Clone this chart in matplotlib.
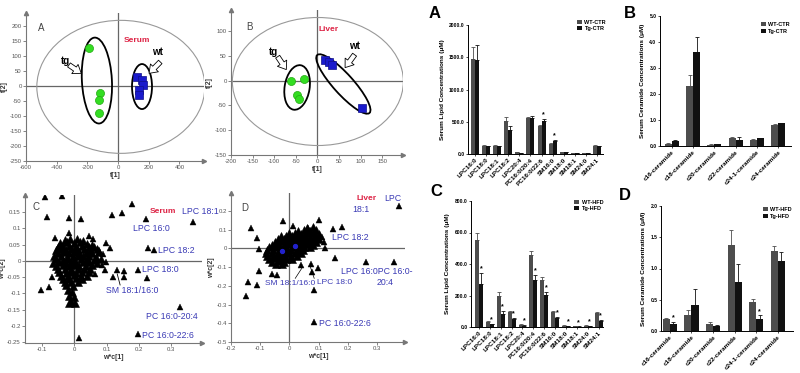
import numpy as np
import matplotlib
matplotlib.use('Agg')
import matplotlib.pyplot as plt
import matplotlib.transforms as mtransforms
from matplotlib.patches import Ellipse

plt.rcParams['font.family'] = ['Liberation Sans', 'DejaVu Sans']

# ---------------- PCA scores ----------------
serum_tg_t1 = [-188, -116, -123, -127]
serum_tg_t2 = [126, -22, -47, -91]
serum_wt_t1 = [123, 156, 162, 134, 134]
serum_wt_t2 = [31, 20, 3, -13, -30]

liver_tg_t1 = [-61, -30, -48, -42]
liver_tg_t2 = [-1, 4, -30, -38]
liver_wt_t1 = [18, 26, 33, 104]
liver_wt_t2 = [42, 37, 31, -56]

# ---------------- loadings (w*c[1], w*c[2]) ----------------
serum_out = [(-0.091, 0.195), (-0.039, 0.199), (-0.085, 0.136), (-0.016, 0.132), (0.021, 0.129),
             (0.178, 0.174), (0.147, 0.147), (0.118, 0.141), (0.222, 0.129), (0.369, 0.120),
             (0.227, 0.039), (0.247, 0.034), (0.098, 0.055), (0.111, 0.039), (0.098, -0.002),
             (0.095, -0.027), (0.132, -0.027), (0.154, -0.032), (0.154, -0.049), (0.199, -0.027),
             (0.225, -0.052), (0.119, -0.049), (0.328, -0.141), (0.196, -0.225), (0.015, -0.238),
             (-0.104, -0.088), (-0.080, -0.080), (-0.070, -0.049), (-0.060, 0.070), (-0.018, 0.085),
             (0.044, 0.075), (0.057, 0.067), (0.075, 0.034), (0.090, 0.020), (0.085, -0.012),
             (0.065, -0.040)]
serum_core = [(-0.030, 0.065), (-0.012, 0.068), (0.008, 0.066), (0.028, 0.062),
              (-0.045, 0.054), (-0.022, 0.057), (0.000, 0.055), (0.018, 0.058), (0.040, 0.053), (0.056, 0.050),
              (-0.052, 0.044), (-0.035, 0.046), (-0.015, 0.045), (0.005, 0.043), (0.025, 0.047), (0.045, 0.044),
              (0.062, 0.042),
              (-0.057, 0.034), (-0.040, 0.036), (-0.025, 0.033), (-0.008, 0.036), (0.010, 0.034), (0.030, 0.035),
              (0.050, 0.033), (0.070, 0.036),
              (-0.050, 0.024), (-0.032, 0.026), (-0.016, 0.023), (0.000, 0.026), (0.016, 0.024), (0.035, 0.025),
              (0.056, 0.023), (0.076, 0.026),
              (-0.062, 0.014), (-0.042, 0.016), (-0.022, 0.013), (-0.005, 0.016), (0.010, 0.014), (0.026, 0.015),
              (0.045, 0.016), (0.066, 0.013),
              (-0.056, 0.005), (-0.036, 0.004), (-0.020, 0.006), (0.000, 0.004), (0.020, 0.006), (0.040, 0.005),
              (0.060, 0.004), (0.082, 0.006),
              (-0.066, -0.006), (-0.046, -0.004), (-0.026, -0.006), (-0.010, -0.004), (0.006, -0.006),
              (0.026, -0.005), (0.046, -0.004), (0.070, -0.006),
              (-0.056, -0.015), (-0.036, -0.014), (-0.016, -0.016), (0.000, -0.014), (0.015, -0.016),
              (0.035, -0.015), (0.055, -0.014),
              (-0.050, -0.025), (-0.030, -0.026), (-0.010, -0.024), (0.010, -0.026), (0.030, -0.025), (0.050, -0.024),
              (-0.046, -0.035), (-0.026, -0.036), (-0.010, -0.034), (0.005, -0.036), (0.025, -0.035), (0.045, -0.034),
              (-0.040, -0.045), (-0.020, -0.046), (0.000, -0.044), (0.020, -0.046), (0.040, -0.045),
              (-0.035, -0.055), (-0.015, -0.056), (0.005, -0.054), (0.025, -0.056),
              (-0.030, -0.065), (-0.010, -0.066), (0.010, -0.064),
              (-0.025, -0.075), (-0.005, -0.076),
              (-0.020, -0.090), (-0.008, -0.095), (-0.015, -0.108), (0.000, -0.112), (-0.010, -0.122),
              (-0.018, -0.130), (0.002, -0.128)]

liver_out = [(0.376, 0.227), (-0.133, 0.111), (-0.112, 0.054), (-0.105, -0.004), (-0.103, -0.122),
             (-0.143, -0.181), (-0.110, -0.194), (-0.150, -0.256), (-0.059, -0.139), (-0.041, -0.140),
             (-0.023, 0.145), (0.013, 0.121), (0.063, 0.107), (0.102, 0.152), (0.148, 0.104),
             (0.180, 0.116), (0.111, 0.063), (0.120, 0.036), (0.122, 0.000), (0.155, -0.052),
             (0.261, -0.074), (0.359, -0.071), (0.040, -0.089), (0.074, -0.085), (0.099, -0.103),
             (0.076, -0.125), (0.086, -0.222), (0.084, -0.392)]
liver_core = [(0.060, 0.110), (0.080, 0.112),
              (0.030, 0.095), (0.050, 0.097), (0.070, 0.094), (0.090, 0.096),
              (0.000, 0.080), (0.020, 0.082), (0.040, 0.079), (0.060, 0.081), (0.080, 0.080), (0.100, 0.078),
              (-0.030, 0.065), (-0.010, 0.067), (0.010, 0.064), (0.030, 0.066), (0.050, 0.065), (0.070, 0.063),
              (0.090, 0.066),
              (-0.040, 0.050), (-0.020, 0.052), (0.000, 0.049), (0.020, 0.051), (0.040, 0.050), (0.060, 0.048),
              (0.080, 0.051), (0.100, 0.050),
              (-0.050, 0.035), (-0.030, 0.037), (-0.010, 0.034), (0.010, 0.036), (0.030, 0.035), (0.050, 0.033),
              (0.070, 0.036), (0.090, 0.035),
              (-0.060, 0.020), (-0.040, 0.022), (-0.020, 0.019), (0.000, 0.021), (0.020, 0.020), (0.040, 0.018),
              (0.060, 0.021), (0.080, 0.020),
              (-0.070, 0.005), (-0.050, 0.007), (-0.030, 0.004), (-0.010, 0.006), (0.010, 0.005), (0.030, 0.003),
              (0.050, 0.006), (0.070, 0.005),
              (-0.075, -0.010), (-0.055, -0.008), (-0.035, -0.011), (-0.015, -0.009), (0.005, -0.010),
              (0.025, -0.012), (0.045, -0.009),
              (-0.080, -0.025), (-0.060, -0.023), (-0.040, -0.026), (-0.020, -0.024), (0.000, -0.025), (0.020, -0.027),
              (0.040, -0.024),
              (-0.075, -0.040), (-0.055, -0.038), (-0.035, -0.041), (-0.015, -0.039), (0.005, -0.040), (0.025, -0.042),
              (-0.070, -0.055), (-0.050, -0.053), (-0.030, -0.056), (-0.010, -0.054), (0.010, -0.055),
              (-0.060, -0.070), (-0.040, -0.068), (-0.020, -0.071),
              (-0.045, -0.085), (-0.025, -0.083)]
liver_blue = [(-0.024, -0.012), (0.019, 0.014)]

# ---------------- bar data ----------------
lipids = ['LPC16:0', 'LPC18:0', 'LPC18:1', 'LPC18:2', 'LPC20:4', 'PC16:0/20:4', 'PC16:0/22:6',
          'SM16:0', 'SM18:0', 'SM18:1', 'SM24:0', 'SM24:1']
ceramides = ['c16-ceramide', 'c18-ceramide', 'c20-ceramide', 'c22-ceramide', 'c24-1-ceramide', 'c24-ceramide']

ctr_lip_wt = [1480, 130, 130, 510, 25, 560, 430, 160, 30, 10, 15, 125]
ctr_lip_tg = [1460, 120, 120, 370, 15, 560, 510, 200, 25, 10, 12, 120]
ctr_lip_wt_err = [180, 15, 10, 70, 5, 20, 20, 10, 5, 2, 2, 10]
ctr_lip_tg_err = [230, 10, 10, 60, 5, 25, 30, 20, 3, 2, 2, 8]
ctr_lip_star = [6, 7]

ctr_cer_wt = [0.08, 2.3, 0.05, 0.30, 0.25, 0.82]
ctr_cer_tg = [0.18, 3.6, 0.06, 0.22, 0.30, 0.88]
ctr_cer_wt_err = [0.02, 0.42, 0.01, 0.05, 0.02, 0.03]
ctr_cer_tg_err = [0.05, 0.60, 0.01, 0.12, 0.02, 0.02]

hfd_lip_wt = [550, 30, 195, 95, 15, 460, 300, 95, 8, 5, 8, 88]
hfd_lip_tg = [275, 18, 85, 50, 8, 300, 205, 58, 4, 3, 4, 38]
hfd_lip_wt_err = [50, 5, 25, 8, 4, 20, 20, 8, 2, 1, 2, 8]
hfd_lip_tg_err = [70, 4, 15, 8, 3, 30, 15, 8, 1, 1, 1, 8]
hfd_lip_star = [0, 1, 2, 3, 4, 5, 6, 7, 8, 9, 10, 11]

hfd_cer_wt = [0.20, 0.25, 0.12, 1.37, 0.47, 1.28]
hfd_cer_tg = [0.12, 0.42, 0.08, 0.79, 0.20, 1.12]
hfd_cer_wt_err = [0.01, 0.08, 0.02, 0.25, 0.05, 0.08]
hfd_cer_tg_err = [0.03, 0.25, 0.01, 0.28, 0.05, 0.15]
hfd_cer_star = [0, 4]

W, H = 800, 373
fig = plt.figure(figsize=(8, 3.73), dpi=100)


def px_axes(l, t, r, b):
    return fig.add_axes([l / W, 1 - b / H, (r - l) / W, (b - t) / H])


def ellipse_px(ax, cx, cy, w, h, angle, **kw):
    # ellipse sized in pixels, centred on a data point
    tr = fig.dpi_scale_trans + mtransforms.ScaledTranslation(cx, cy, ax.transData)
    e = Ellipse((0, 0), w / 100, h / 100, angle=angle, transform=tr, fill=False, **kw)
    ax.add_patch(e)


def hollow_arrow(ax, tail, tip):
    ax.annotate('', xy=tip, xytext=tail,
                arrowprops=dict(arrowstyle='simple,head_length=0.55,head_width=0.8,tail_width=0.35',
                                fc='white', ec='black', lw=0.6, mutation_scale=10,
                                shrinkA=0, shrinkB=0))


def pca_axes(ax, xlim, ylim, xticks, yticks, xlabel, ylabel):
    ax.set_xlim(xlim)
    ax.set_ylim(ylim)
    for s in ['top', 'right']:
        ax.spines[s].set_visible(False)
    for s in ['left', 'bottom']:
        ax.spines[s].set_color('#777777')
        ax.spines[s].set_linewidth(0.8)
    ax.axhline(0, color='#666666', lw=0.9, zorder=1)
    ax.axvline(0, color='#666666', lw=0.9, zorder=1)
    ax.set_xticks(xticks)
    ax.set_yticks(yticks)
    ax.set_xticklabels([f'{v:g}' for v in xticks])
    ax.set_yticklabels([f'{v:g}' for v in yticks])
    ax.tick_params(labelsize=4.3, colors='#555555', length=2, width=0.5, pad=1)
    ax.set_xlabel(xlabel, fontsize=5, fontweight='bold', labelpad=1, color='#333333')
    ax.set_ylabel(ylabel, fontsize=5, fontweight='bold', labelpad=1, color='#333333')
    ax.plot([1], [0], marker='>', color='#777777', ms=3, transform=ax.transAxes, clip_on=False)
    ax.plot([0], [1], marker='^', color='#777777', ms=3, transform=ax.transAxes, clip_on=False)
    ax.patch.set_alpha(0)


# ---------------- PCA serum (A) ----------------
ax = px_axes(26, 13, 204, 161)
pca_axes(ax, (-600, 560), (-250, 243), range(-600, 401, 200), range(-250, 201, 50), 't[1]', 't[2]')
ellipse_px(ax, 18, -3, 168, 133, 0, ec='#999999', lw=0.8)
ellipse_px(ax, -138, 18, 86, 30, 93, ec='black', lw=1.3)
ellipse_px(ax, 156, -2, 20, 45, 0, ec='black', lw=1.3)
ax.plot(serum_tg_t1, serum_tg_t2, 'o', color='#33dd22', mec='#22aa11', ms=5.8, mew=0.5, zorder=3)
ax.plot(serum_wt_t1, serum_wt_t2, 's', color='#1a1acc', mec='#10108a', ms=5.8, mew=0.5, zorder=3)
ax.text(-345, 82, 'tg', fontsize=7, fontweight='bold', ha='center', va='center')
ax.text(255, 112, 'wt', fontsize=7, fontweight='bold', ha='center', va='center')
hollow_arrow(ax, (-320, 70), (-240, 42))
hollow_arrow(ax, (275, 80), (202, 42))
ax.text(38, 153, 'Serum', color='#dd2244', fontsize=6, fontweight='bold', va='center')
ax.text(0.07, 0.90, 'A', transform=ax.transAxes, fontsize=7, color='#444444', va='center')

# ---------------- PCA liver (B) ----------------
ax = px_axes(231, 10, 403, 155)
pca_axes(ax, (-200, 198), (-150, 142), range(-200, 151, 50), range(-150, 101, 50), 't[1]', 't[2]')
ellipse_px(ax, 1, -2, 171, 128, 0, ec='#999999', lw=0.8)
ellipse_px(ax, -47, -14, 45, 25, 81, ec='black', lw=1.3)
ellipse_px(ax, 60, -7, 78, 20, -48, ec='black', lw=1.3)
ax.plot(liver_tg_t1, liver_tg_t2, 'o', color='#33dd22', mec='#22aa11', ms=5.8, mew=0.5, zorder=3)
ax.plot(liver_wt_t1, liver_wt_t2, 's', color='#1a1acc', mec='#10108a', ms=5.8, mew=0.5, zorder=3)
ax.text(-102, 58, 'tg', fontsize=7, fontweight='bold', ha='center', va='center')
ax.text(85, 70, 'wt', fontsize=7, fontweight='bold', ha='center', va='center')
hollow_arrow(ax, (-92, 48), (-72, 22))
hollow_arrow(ax, (86, 52), (64, 26))
ax.text(2, 102, 'Liver', color='#dd2244', fontsize=6, fontweight='bold', va='center')
ax.text(0.09, 0.88, 'B', transform=ax.transAxes, fontsize=7, color='#444444', va='center')

label_blue = '#3a3ab5'

# ---------------- loadings serum (C) ----------------
ax = px_axes(25, 195, 202, 343)
pca_axes(ax, (-0.153, 0.396), (-0.252, 0.202), [-0.1, 0, 0.1, 0.2, 0.3],
         [0.15, 0.1, 0.05, 0, -0.05, -0.1, -0.15, -0.2, -0.25], 'w*c[1]', 'w*c[2]')
ax.plot([p[0] for p in serum_out], [p[1] for p in serum_out], '^', color='black', ms=4.6, mew=0.3, zorder=3)
ax.plot([p[0] for p in serum_core], [p[1] for p in serum_core], '^', color='black', ms=5.4, mew=0.4,
        zorder=3)
ax.text(0.235, 0.15, 'Serum', color='#dd2244', fontsize=6, fontweight='bold', va='center')
ax.text(0.333, 0.15, 'LPC 18:1', color=label_blue, fontsize=6.3, va='center')
ax.text(0.183, 0.098, 'LPC 16:0', color=label_blue, fontsize=6.3, va='center')
ax.text(0.261, 0.031, 'LPC 18:2', color=label_blue, fontsize=6.3, va='center')
ax.text(0.211, -0.027, 'LPC 18:0', color=label_blue, fontsize=6.3, va='center')
ax.text(0.099, -0.09, 'SM 18:1/16:0', color=label_blue, fontsize=6.3, va='center')
ax.text(0.222, -0.172, 'PC 16:0-20:4', color=label_blue, fontsize=6.3, va='center')
ax.text(0.209, -0.228, 'PC 16:0-22:6', color=label_blue, fontsize=6.3, va='center')
ax.plot([0.133, 0.142], [-0.04, -0.074], color='black', lw=0.6)
ax.text(0.04, 0.9, 'C', transform=ax.transAxes, fontsize=7, color='#444444')

# ---------------- loadings liver (D) ----------------
ax = px_axes(231, 193, 405, 342)
pca_axes(ax, (-0.2, 0.396), (-0.5, 0.296), [-0.2, -0.1, 0, 0.1, 0.2, 0.3],
         [0.2, 0.1, 0, -0.1, -0.2, -0.3, -0.4, -0.5], 'w*c[1]', 'w*c[2]')
ax.plot([p[0] for p in liver_out], [p[1] for p in liver_out], '^', color='black', ms=4.6, mew=0.3, zorder=3)
ax.plot([p[0] for p in liver_core], [p[1] for p in liver_core], '^', color='black', ms=5.4, mew=0.4,
        zorder=3)
ax.plot([p[0] for p in liver_blue], [p[1] for p in liver_blue], 'o', color='#2222cc', ms=2.8, zorder=4)
ax.text(0.23, 0.268, 'Liver', color='#dd2244', fontsize=6, fontweight='bold', va='center')
ax.text(0.324, 0.268, 'LPC', color=label_blue, fontsize=6.3, va='center')
ax.text(0.217, 0.209, '18:1', color=label_blue, fontsize=6.3, va='center')
ax.text(0.145, 0.059, 'LPC 18:2', color=label_blue, fontsize=6.3, va='center')
ax.text(0.176, -0.125, 'LPC 16:0PC 16:0-', color=label_blue, fontsize=6.3, va='center')
ax.text(0.297, -0.183, '20:4', color=label_blue, fontsize=6.3, va='center')
ax.text(-0.085, -0.187, 'SM 18:1/16:0', color=label_blue, fontsize=6.0, va='center')
ax.text(0.094, -0.182, 'LPC 18:0', color=label_blue, fontsize=6.0, va='center')
ax.text(0.102, -0.40, 'PC 16:0-22:6', color=label_blue, fontsize=6.3, va='center')
ax.plot([0.02, 0.045], [-0.16, -0.1], color='black', lw=0.5)
ax.plot([0.085, 0.072], [-0.16, -0.1], color='black', lw=0.5)
ax.text(0.06, 0.88, 'D', transform=ax.transAxes, fontsize=7, color='#444444')


# ---------------- bar panels ----------------
def bar_panel(ax, cats, wt, tg, wt_err, tg_err, stars, ymax, step, xlim, ylabel, leg, width):
    x = np.arange(len(cats))
    wt_c, tg_c = '#4d4d4d', '#111111'
    ax.bar(x - width / 2, wt, width, color=wt_c, label=leg[0], zorder=2)
    ax.bar(x + width / 2, tg, width, color=tg_c, label=leg[1], zorder=2)
    ax.errorbar(x - width / 2, wt, yerr=[np.zeros(len(wt)), wt_err], fmt='none', ecolor=wt_c,
                elinewidth=0.6, capsize=1.2, capthick=0.6, zorder=1)
    ax.errorbar(x + width / 2, tg, yerr=[np.zeros(len(tg)), tg_err], fmt='none', ecolor=tg_c,
                elinewidth=0.6, capsize=1.2, capthick=0.6, zorder=1)
    for i in stars:
        ax.text(x[i] + width / 2, tg[i] + tg_err[i] + ymax * 0.005, '*', ha='center', va='bottom',
                fontsize=5, fontweight='bold')
    ax.set_xlim(xlim)
    ax.set_ylim(0, ymax)
    yt = np.arange(0, ymax + step / 2, step)
    ax.set_yticks(yt)
    ax.set_yticklabels([f'{v:.1f}' for v in yt])
    ax.set_xticks(x)
    ax.set_xticklabels(cats, rotation=45, ha='right', rotation_mode='anchor', fontsize=4.6,
                       fontweight='bold')
    ax.tick_params(axis='y', labelsize=3.6, length=1.5, width=0.5, pad=1)
    ax.tick_params(axis='x', length=1.5, width=0.5, pad=1)
    for lab in ax.get_yticklabels():
        lab.set_fontweight('bold')
    for s in ['top', 'right']:
        ax.spines[s].set_visible(False)
    for s in ['left', 'bottom']:
        ax.spines[s].set_linewidth(0.7)
    ax.set_ylabel(ylabel, fontsize=4.6, fontweight='bold', labelpad=3)
    return ax


ax = px_axes(468, 25, 603, 154)
bar_panel(ax, lipids, ctr_lip_wt, ctr_lip_tg, ctr_lip_wt_err, ctr_lip_tg_err, ctr_lip_star,
          2000, 500, (-0.63, 11.54), 'Serum Lipid Concentrations (\u03bcM)', ['WT-CTR', 'Tg-CTR'], 0.36)
ax.legend(loc='upper right', bbox_to_anchor=(1.06, 1.08), frameon=False,
          handlelength=1.0, handleheight=0.7, handletextpad=0.4, labelspacing=0.3,
          prop=dict(size=4, weight='bold'))

ax = px_axes(660, 16, 791, 146)
bar_panel(ax, ceramides, ctr_cer_wt, ctr_cer_tg, ctr_cer_wt_err, ctr_cer_tg_err, [],
          5.0, 1.0, (-0.55, 5.6), 'Serum Ceramide Concentrations (\u03bcM)', ['WT-CTR', 'Tg-CTR'], 0.33)
ax.legend(loc='upper right', bbox_to_anchor=(1.03, 0.99), frameon=False,
          handlelength=1.0, handleheight=0.7, handletextpad=0.4, labelspacing=0.3,
          prop=dict(size=4, weight='bold'))

ax = px_axes(471, 201, 603, 327)
bar_panel(ax, lipids, hfd_lip_wt, hfd_lip_tg, hfd_lip_wt_err, hfd_lip_tg_err, hfd_lip_star,
          800, 200, (-0.73, 11.4), 'Serum Lipid Concentrations (\u03bcM)', ['WT-HFD', 'Tg-HFD'], 0.36)
ax.legend(loc='upper right', bbox_to_anchor=(1.04, 1.05), frameon=False,
          handlelength=1.0, handleheight=0.7, handletextpad=0.4, labelspacing=0.3,
          prop=dict(size=4, weight='bold'))

ax = px_axes(661, 206, 793, 331)
bar_panel(ax, ceramides, hfd_cer_wt, hfd_cer_tg, hfd_cer_wt_err, hfd_cer_tg_err, hfd_cer_star,
          2.0, 0.5, (-0.41, 5.7), 'Serum Ceramide Concentrations (\u03bcM)', ['WT-HFD', 'Tg-HFD'], 0.33)
ax.legend(loc='upper right', bbox_to_anchor=(1.03, 1.03), frameon=False,
          handlelength=1.0, handleheight=0.7, handletextpad=0.4, labelspacing=0.3,
          prop=dict(size=4, weight='bold'))

for letter, xp, yp in [('A', 435, 13), ('B', 630, 13), ('C', 436, 192), ('D', 625, 195)]:
    fig.text(xp / W, 1 - yp / H, letter, fontsize=12, fontweight='bold', ha='center', va='center')

fig.savefig('out.png', dpi=100)
